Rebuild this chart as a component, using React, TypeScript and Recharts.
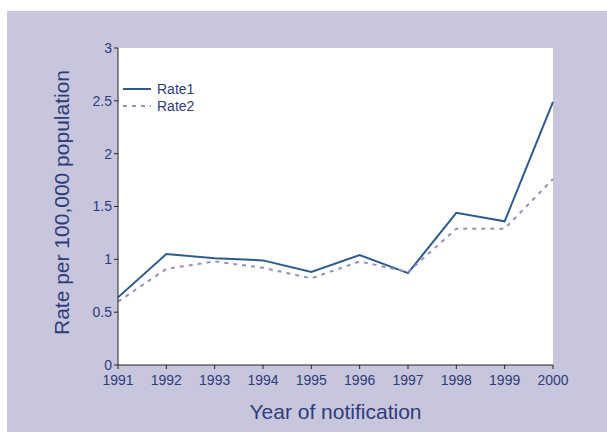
import React from 'react';
import { LineChart, Line, XAxis, YAxis, CartesianGrid } from 'recharts';

const years = ['1991', '1992', '1993', '1994', '1995', '1996', '1997', '1998', '1999', '2000'];
const rate1 = [0.64, 1.05, 1.01, 0.99, 0.88, 1.04, 0.87, 1.44, 1.36, 2.49];
const rate2 = [0.6, 0.91, 0.98, 0.92, 0.82, 0.98, 0.88, 1.29, 1.29, 1.76];
const yTicks = [0, 0.5, 1, 1.5, 2, 2.5, 3];

const navy = '#2e3c7c';
const lavender = '#c7c6dc';
const font = 'Liberation Sans, Arial, sans-serif';

const seriesStyles = [
  { key: 'rate1', name: 'Rate1', color: '#2b5b8e', dash: undefined as string | undefined },
  { key: 'rate2', name: 'Rate2', color: '#9490bd', dash: '4 5' },
];

// legend drawn as an overlay so it doesn't shift the plot area
function LegendBox() {
  return (
    <div style={{ position: 'absolute', left: 123, top: 80, fontFamily: font, fontSize: 14, color: navy }}>
      {seriesStyles.map((s) => (
        <div key={s.key} style={{ display: 'flex', alignItems: 'center', height: 17 }}>
          <svg width={30} height={10} style={{ marginRight: 4 }}>
            <line x1={0} y1={5} x2={28} y2={5} stroke={s.color} strokeWidth={2} strokeDasharray={s.dash} />
          </svg>
          <span>{s.name}</span>
        </div>
      ))}
    </div>
  );
}

export default function App() {
  const data = years.map((y, i) => ({ year: y, rate1: rate1[i], rate2: rate2[i] }));
  const tickStyle = { fill: navy, fontSize: 14, fontFamily: font };

  return (
    <div style={{ position: 'absolute', left: 0, top: 0, width: 607, height: 432, background: '#fff' }}>
      <div style={{ position: 'absolute', left: 7, top: 11, width: 600, height: 421, background: lavender }} />
      <div style={{ position: 'absolute', left: 0, top: 0 }}>
        <LineChart width={607} height={432} data={data} margin={{ top: 48, right: 54, bottom: 7, left: 40 }}>
          <CartesianGrid fill="#ffffff" stroke="none" horizontal={false} vertical={false} />
          <XAxis
            dataKey="year"
            height={60}
            tick={tickStyle}
            tickSize={4}
            tickMargin={6}
            stroke="#222"
            interval={0}
            label={{ value: 'Year of notification', position: 'insideBottom', offset: 6, fill: navy, fontSize: 21, fontFamily: font }}
          />
          <YAxis
            width={78}
            domain={[0, 3]}
            ticks={yTicks}
            tick={tickStyle}
            tickSize={4}
            tickMargin={2}
            stroke="#222"
            label={{ value: 'Rate per 100,000 population', angle: -90, position: 'insideLeft', offset: 22, dy: -4, fill: navy, fontSize: 21, fontFamily: font, style: { textAnchor: 'middle' } }}
          />
          {seriesStyles.map((s) => (
            <Line
              key={s.key}
              type="linear"
              dataKey={s.key}
              name={s.name}
              stroke={s.color}
              strokeWidth={2}
              strokeDasharray={s.dash}
              dot={false}
              isAnimationActive={false}
            />
          ))}
        </LineChart>
      </div>
      <LegendBox />
    </div>
  );
}
